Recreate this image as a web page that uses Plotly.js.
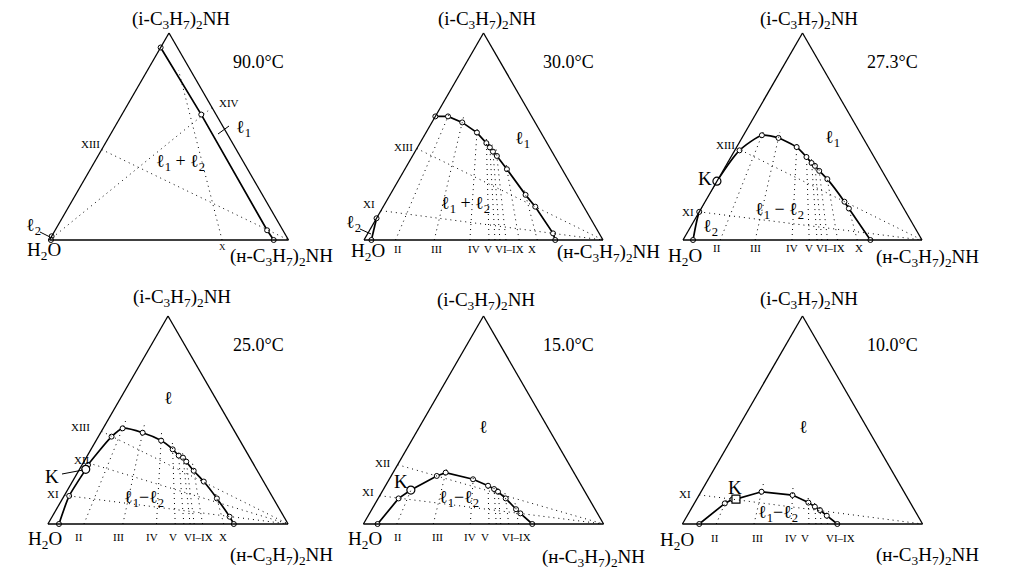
<!DOCTYPE html>
<html><head><meta charset="utf-8">
<script src="https://cdn.plot.ly/plotly-3.0.1.min.js"></script>
<style>html,body{margin:0;padding:0;background:#fff}#chart{width:1012px;height:577px}</style>
</head><body><div id="chart"></div>
<script>
// ===== DATA (mass fractions: a = (i-C3H7)2NH, b = H2O, c = (n-C3H7)2NH) =====
// 90.0 °C
const t90_l1_a = [0.930, 0.606, 0.047, 0.000];
const t90_l1_b = [0.070, 0.062, 0.066, 0.062];
const t90_l1_c = [0.000, 0.332, 0.887, 0.938];
const t90_l2_a = [0.018, 0.000];
const t90_l2_b = [0.982, 0.994];
const t90_l2_c = [0.000, 0.006];
const t90_base_c0 = [0.722];
const t90_base_aEnd = [0.82];
const t90_left_a0 = [0.437];
const t90_right_a0 = [0.640];
const t90_baseLabels = ['X'];

// 30.0 °C
const t30_l1_a = [0.597, 0.597, 0.568, 0.519, 0.468, 0.447, 0.427, 0.406, 0.342, 0.218, 0.161, 0.032, 0.000];
const t30_l1_b = [0.403, 0.350, 0.305, 0.268, 0.254, 0.250, 0.247, 0.241, 0.231, 0.215, 0.203, 0.193, 0.200];
const t30_l1_c = [0.000, 0.053, 0.127, 0.213, 0.278, 0.303, 0.326, 0.353, 0.427, 0.567, 0.636, 0.775, 0.800];
const t30_l2_a = [0.105, 0.000];
const t30_l2_b = [0.895, 0.969];
const t30_l2_c = [0.000, 0.031];
const t30_base_c0 = [0.132, 0.294, 0.443, 0.523, 0.548, 0.569, 0.594, 0.649, 0.725];
const t30_base_aEnd = [0.62, 0.60, 0.55, 0.50, 0.48, 0.46, 0.44, 0.37, 0.25];
const t30_left_a0 = [0.442, 0.142];
const t30_baseLabels = ['II', 'III', 'IV', 'V', 'VI–IX', 'X'];

// 27.3 °C
const t27_l_a = [0.000, 0.136, 0.284, 0.433, 0.506, 0.493, 0.449, 0.401, 0.372, 0.358, 0.334, 0.294, 0.185, 0.152, 0.000];
const t27_l_b = [0.958, 0.864, 0.716, 0.547, 0.417, 0.354, 0.300, 0.283, 0.276, 0.269, 0.263, 0.249, 0.232, 0.230, 0.216];
const t27_l_c = [0.042, 0.000, 0.000, 0.020, 0.077, 0.153, 0.251, 0.316, 0.352, 0.373, 0.403, 0.457, 0.583, 0.618, 0.784];
const t27_K = [0.284, 0.716, 0.000];
const t27_base_c0 = [0.156, 0.302, 0.456, 0.528, 0.561, 0.581, 0.605, 0.647, 0.729];
const t27_base_aEnd = [0.53, 0.52, 0.47, 0.42, 0.39, 0.38, 0.35, 0.31, 0.17];
const t27_left_a0 = [0.445, 0.136];
const t27_baseLabels = ['II', 'III', 'IV', 'V', 'VI–IX', 'X'];

// 25.0 °C
const t25_l_a = [0.000, 0.135, 0.263, 0.284, 0.420, 0.460, 0.439, 0.401, 0.359, 0.329, 0.319, 0.300, 0.256, 0.204, 0.123, 0.035, 0.000];
const t25_l_b = [0.954, 0.844, 0.711, 0.691, 0.525, 0.459, 0.386, 0.328, 0.301, 0.291, 0.278, 0.274, 0.265, 0.249, 0.235, 0.226, 0.226];
const t25_l_c = [0.046, 0.021, 0.026, 0.025, 0.055, 0.081, 0.175, 0.271, 0.340, 0.380, 0.403, 0.426, 0.479, 0.547, 0.642, 0.739, 0.774];
const t25_K = [0.263, 0.711, 0.026];
const t25_base_c0 = [0.150, 0.312, 0.452, 0.530, 0.566, 0.592, 0.609, 0.644, 0.732];
const t25_base_aEnd = [0.50, 0.48, 0.44, 0.39, 0.36, 0.35, 0.33, 0.29, 0.15];
const t25_left_a0 = [0.446, 0.300, 0.138];
const t25_baseLabels = ['II', 'III', 'IV', 'V', 'VI–IX', 'X'];

// 15.0 °C
const t15_l_a = [0.000, 0.123, 0.163, 0.231, 0.247, 0.215, 0.184, 0.168, 0.155, 0.123, 0.071, 0.051, 0.000];
const t15_l_b = [0.941, 0.792, 0.721, 0.579, 0.534, 0.436, 0.389, 0.372, 0.362, 0.346, 0.329, 0.321, 0.297];
const t15_l_c = [0.059, 0.085, 0.116, 0.190, 0.219, 0.349, 0.427, 0.460, 0.483, 0.531, 0.600, 0.628, 0.703];
const t15_K = [0.163, 0.721, 0.116];
const t15_base_c0 = [0.139, 0.291, 0.445, 0.523, 0.553, 0.572, 0.605, 0.646];
const t15_base_aEnd = [0.18, 0.27, 0.24, 0.21, 0.19, 0.18, 0.15, 0.10];
const t15_left_a0 = [0.285, 0.136];
const t15_baseLabels = ['II', 'III', 'IV', 'V', 'VI–IX'];

// 10.0 °C
const t10_l_a = [0.000, 0.099, 0.119, 0.120, 0.155, 0.139, 0.103, 0.083, 0.067, 0.040, 0.000];
const t10_l_b = [0.930, 0.774, 0.732, 0.717, 0.593, 0.472, 0.424, 0.407, 0.394, 0.379, 0.355];
const t10_l_c = [0.070, 0.127, 0.149, 0.163, 0.252, 0.389, 0.473, 0.510, 0.539, 0.581, 0.645];
const t10_K = [0.120, 0.717, 0.163];
const t10_base_c0 = [0.141, 0.298, 0.452, 0.527, 0.556, 0.578, 0.605];
const t10_base_aEnd = [0.12, 0.20, 0.19, 0.13, 0.11, 0.09, 0.06];
const t10_left_a0 = [0.140];
const t10_baseLabels = ['II', 'III', 'IV', 'V', 'VI–IX'];

const temps = ['90.0°C', '30.0°C', '27.3°C', '25.0°C', '15.0°C', '10.0°C'];

// ===== BUILD =====
const W = 1012, H = 577;
const FONT = 'Liberation Serif, Times New Roman, serif';
const TOP = '(i-C<sub>3</sub>H<sub>7</sub>)<sub>2</sub>NH';
const RIGHT = '(н-C<sub>3</sub>H<sub>7</sub>)<sub>2</sub>NH';
const LEFT = 'H<sub>2</sub>O';

const traces = [];
const annotations = [];
const shapes = [];

function curve(sub, a, b, c, shape) {
  traces.push({type: 'scatterternary', subplot: sub, a: a, b: b, c: c, mode: 'lines+markers',
    line: {color: '#000', width: 1.7, shape: shape || 'linear', smoothing: 0.6},
    marker: {symbol: 'circle', size: 5, color: '#fff', line: {color: '#000', width: 1}},
    hoverinfo: 'skip', showlegend: false, cliponaxis: false});
}
function kpoint(sub, k, sym) {
  traces.push({type: 'scatterternary', subplot: sub, a: [k[0]], b: [k[1]], c: [k[2]], mode: 'markers',
    marker: {symbol: sym || 'circle', size: 8, color: '#fff', line: {color: '#000', width: 1.2}},
    hoverinfo: 'skip', showlegend: false, cliponaxis: false});
}
function dotted(sub, a, b, c) {
  traces.push({type: 'scatterternary', subplot: sub, a: a, b: b, c: c, mode: 'lines',
    line: {color: '#000', width: 1, dash: '1px,4px'}, hoverinfo: 'skip', showlegend: false});
}
function baseSections(sub, c0s, aEnds) {
  c0s.forEach((c0, i) => {
    const ae = aEnds[i];
    dotted(sub, [0, ae], [1 - c0, (1 - c0) * (1 - ae)], [c0, c0 * (1 - ae)]);
  });
}
function leftSections(sub, a0s) {
  a0s.forEach(a0 => dotted(sub, [a0, 0], [1 - a0, 0], [0, 1]));
}
function rightSections(sub, a0s) {
  a0s.forEach(a0 => dotted(sub, [a0, 0], [0, 1], [1 - a0, 0]));
}
function lab(text, px, py, size, opts) {
  annotations.push(Object.assign({xref: 'paper', yref: 'paper', x: px / W, y: 1 - py / H, text: text,
    showarrow: false, xanchor: 'center', yanchor: 'middle',
    font: {family: FONT, size: size, color: '#000'}}, opts || {}));
}
function pointer(x0, y0, x1, y1) {
  shapes.push({type: 'line', xref: 'paper', yref: 'paper', x0: x0 / W, y0: 1 - y0 / H, x1: x1 / W, y1: 1 - y1 / H,
    line: {color: '#000', width: 1}});
}
function axis() {
  return {showgrid: false, showticklabels: false, ticks: '', showline: true, linecolor: '#000',
    linewidth: 1.3, title: {text: ''}, min: 0};
}
function tern(cx, yTop, yBot) {
  return {domain: {x: [(cx - 150) / W, (cx + 150) / W], y: [1 - yBot / H, 1 - yTop / H]},
    sum: 1, bgcolor: 'rgba(0,0,0,0)', aaxis: axis(), baxis: axis(), caxis: axis()};
}

// Panel 1: 90.0 °C
curve('ternary', t90_l1_a, t90_l1_b, t90_l1_c);
curve('ternary', t90_l2_a, t90_l2_b, t90_l2_c);
baseSections('ternary', t90_base_c0, t90_base_aEnd);
leftSections('ternary', t90_left_a0);
rightSections('ternary', t90_right_a0);
// Panel 2: 30.0 °C
curve('ternary2', t30_l1_a, t30_l1_b, t30_l1_c);
curve('ternary2', t30_l2_a, t30_l2_b, t30_l2_c);
baseSections('ternary2', t30_base_c0, t30_base_aEnd);
leftSections('ternary2', t30_left_a0);
// Panel 3: 27.3 °C
curve('ternary3', t27_l_a, t27_l_b, t27_l_c, 'spline');
kpoint('ternary3', t27_K);
baseSections('ternary3', t27_base_c0, t27_base_aEnd);
leftSections('ternary3', t27_left_a0);
// Panel 4: 25.0 °C
curve('ternary4', t25_l_a, t25_l_b, t25_l_c, 'spline');
kpoint('ternary4', t25_K);
baseSections('ternary4', t25_base_c0, t25_base_aEnd);
leftSections('ternary4', t25_left_a0);
// Panel 5: 15.0 °C
curve('ternary5', t15_l_a, t15_l_b, t15_l_c);
kpoint('ternary5', t15_K);
baseSections('ternary5', t15_base_c0, t15_base_aEnd);
leftSections('ternary5', t15_left_a0);
// Panel 6: 10.0 °C
curve('ternary6', t10_l_a, t10_l_b, t10_l_c);
kpoint('ternary6', t10_K, 'square');
baseSections('ternary6', t10_base_c0, t10_base_aEnd);
leftSections('ternary6', t10_left_a0);

// ----- texts -----
const CORNER = 19, TEMP = 18, PH = 18, RN = 11;
// panel 1
lab(TOP, 181, 20, CORNER); lab(temps[0], 258, 62, TEMP);
lab('XIV', 229, 103, RN); lab('ℓ<sub>1</sub>', 243, 128, PH); pointer(218, 134, 229, 126);
lab('XIII', 90, 144, RN); lab('ℓ<sub>1</sub> + ℓ<sub>2</sub>', 180, 162, PH);
lab('ℓ<sub>2</sub>', 33, 226, PH); pointer(40, 232, 50, 237);
lab(LEFT, 44, 251, CORNER); lab(t90_baseLabels[0], 222, 247, 9); lab(RIGHT, 281, 257, CORNER);
// panel 2
lab(TOP, 487, 20, CORNER); lab(temps[1], 568, 62, TEMP);
lab('ℓ<sub>1</sub>', 522, 140, PH); lab('XIII', 403, 147, RN); lab('XI', 369, 204, RN);
lab('ℓ<sub>2</sub>', 353, 223, PH); pointer(360, 229, 371, 234);
lab('ℓ<sub>1</sub> + ℓ<sub>2</sub>', 465, 204, PH);
lab(LEFT, 368, 252, CORNER); lab(RIGHT, 608, 253, CORNER);
[398, 436, 474, 488, 509, 532].forEach((x, i) => lab(t30_baseLabels[i], x, 249, RN));
// panel 3
lab(TOP, 809, 20, CORNER); lab(temps[2], 892, 62, TEMP);
lab('ℓ<sub>1</sub>', 832, 138, PH); lab('XIII', 725, 145, RN); lab('K', 705, 178, CORNER);
lab('XI', 688, 212, RN); lab('ℓ<sub>1</sub> − ℓ<sub>2</sub>', 779, 210, PH); lab('ℓ<sub>2</sub>', 710, 227, PH);
lab(LEFT, 685, 257, CORNER); lab(RIGHT, 927, 258, CORNER);
[717, 755, 792, 809, 830, 859].forEach((x, i) => lab(t27_baseLabels[i], x, 248, RN));
// panel 4
lab(TOP, 182, 298, CORNER); lab(temps[3], 258, 345, TEMP);
lab('ℓ', 168, 398, PH); lab('XIII', 80, 427, RN); lab('XII', 82, 460, RN);
lab('K', 52, 476, CORNER); pointer(62, 474, 83, 470); lab('XI', 53, 494, RN);
lab('ℓ<sub>1</sub>−ℓ<sub>2</sub>', 144, 498, PH);
lab(LEFT, 45, 540, CORNER); lab(RIGHT, 281, 556, CORNER);
[79, 118, 152, 173, 198, 223].forEach((x, i) => lab(t25_baseLabels[i], x, 537, RN));
// panel 5
lab(TOP, 486, 301, CORNER); lab(temps[4], 568, 345, TEMP);
lab('ℓ', 483, 427, PH); lab('XII', 383, 463, RN); lab('K', 401, 482, CORNER); lab('XI', 368, 492, RN);
lab('ℓ<sub>1</sub>−ℓ<sub>2</sub>', 459, 498, PH);
lab(LEFT, 365, 540, CORNER); lab(RIGHT, 593, 558, CORNER);
[398, 437, 470, 485, 516].forEach((x, i) => lab(t15_baseLabels[i], x, 537, RN));
// panel 6
lab(TOP, 809, 300, CORNER); lab(temps[5], 892, 345, TEMP);
lab('ℓ', 803, 427, PH); lab('K', 735, 487, CORNER); lab('XI', 685, 494, RN);
lab('ℓ<sub>1</sub>−ℓ<sub>2</sub>', 778, 513, PH);
lab(LEFT, 677, 541, CORNER); lab(RIGHT, 927, 556, CORNER);
[715, 757, 791, 805, 840].forEach((x, i) => lab(t10_baseLabels[i], x, 538, RN));

const layout = {
  width: W, height: H, margin: {l: 0, r: 0, t: 0, b: 0},
  paper_bgcolor: '#fff', plot_bgcolor: '#fff', showlegend: false,
  font: {family: FONT, color: '#000'},
  ternary: tern(169, 33, 240), ternary2: tern(483.5, 33, 240), ternary3: tern(802.5, 33, 240),
  ternary4: tern(168, 316, 524), ternary5: tern(483.5, 316, 524), ternary6: tern(802.5, 316, 524),
  annotations: annotations, shapes: shapes
};
Plotly.newPlot('chart', traces, layout, {staticPlot: true, displayModeBar: false});
</script></body></html>
